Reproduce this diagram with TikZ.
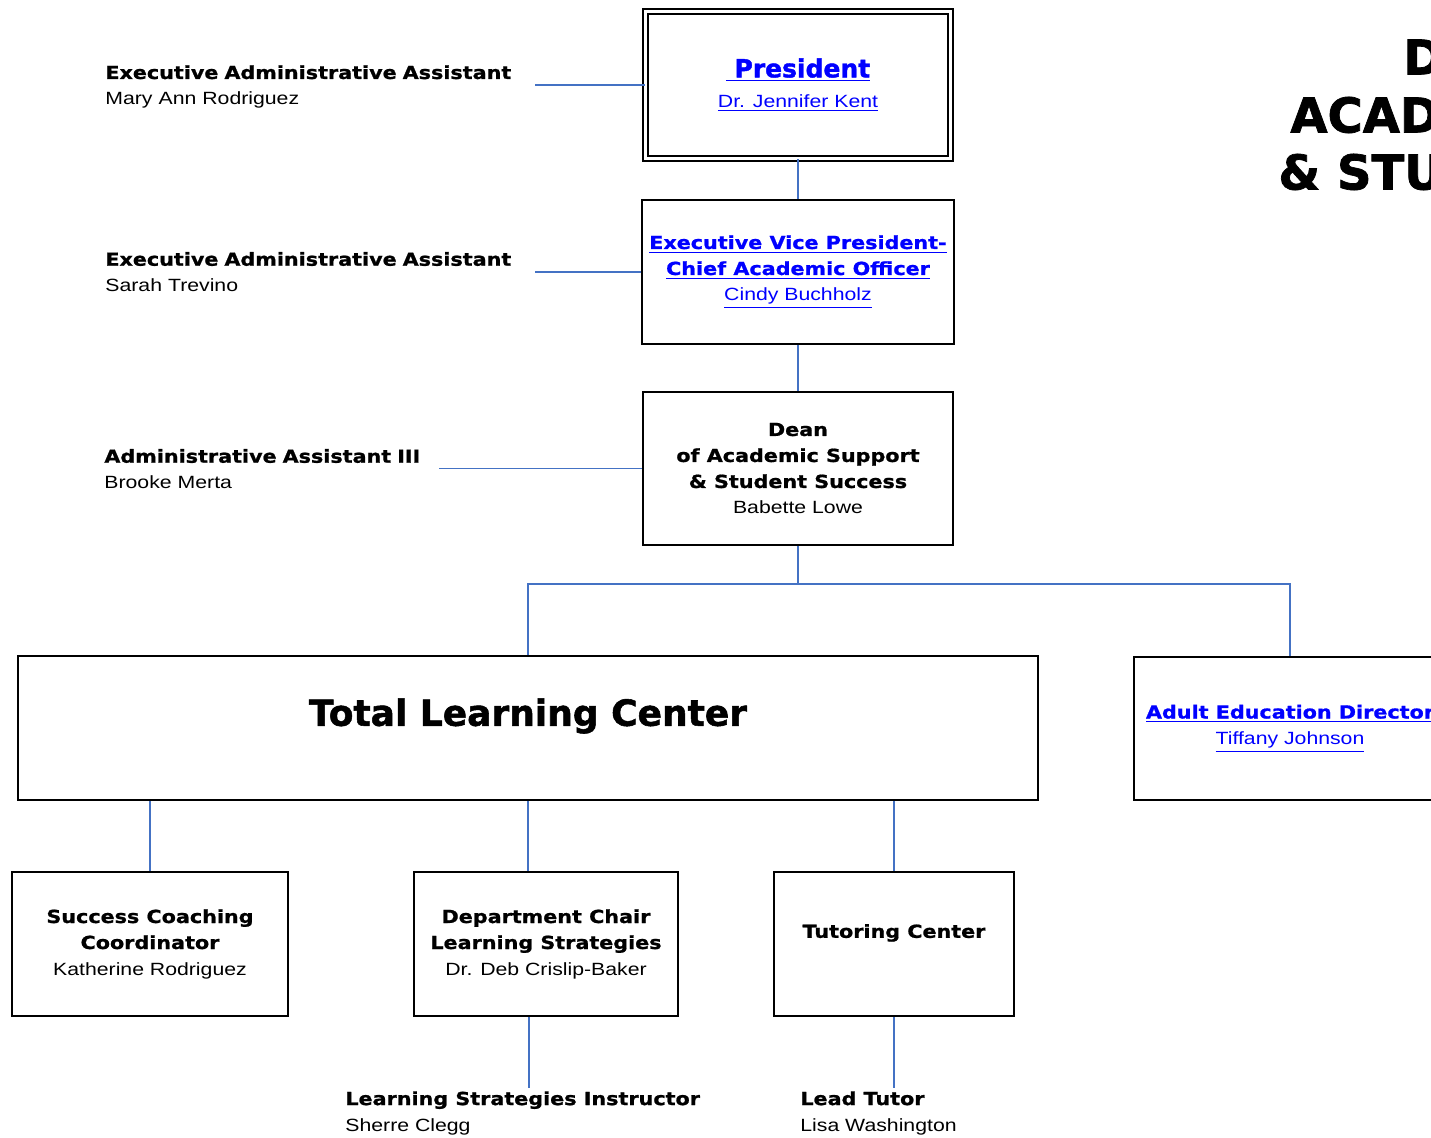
\documentclass[tikz,border=0pt]{standalone}
\usepackage{fontspec}
\setmainfont{Liberation Sans}[FakeStretch=1.2]
\newfontfamily\hdfont{DejaVu Sans}[FakeStretch=1.15,FakeBold=1]
\newfontfamily\bigfont{DejaVu Sans}[FakeBold=1.5]
\usepackage{tikz}
\usetikzlibrary{positioning}

\definecolor{orglink}{RGB}{68,114,196}
\definecolor{hyper}{RGB}{0,0,255}
\newcommand{\namefont}{\normalfont\fontsize{8.85}{13}\selectfont}
\newcommand{\headfont}{\hdfont\bfseries\fontsize{9}{13}\selectfont}

\tikzset{
  orgbox/.style={draw=black, line width=1pt, align=center, inner sep=0pt, font=\headfont},
  aide/.style={anchor=west, align=left, inner sep=0pt, font=\headfont},
  conn/.style={draw=orglink, line width=0.8pt},
}

\begin{document}
\begin{tikzpicture}[x=0.5pt,y=0.5pt,yscale=-1,xscale=1]
\useasboundingbox (0,0) rectangle (1431,1138);
\clip (0,0) rectangle (1431,1138);

% Title (runs off the page)
\node [anchor=west, inner sep=0pt, font=\bigfont\bfseries\fontsize{24}{28.5}\selectfont] (ttla) at (1403,57) {D};
\node [anchor=west, inner sep=0pt, font=\bigfont\bfseries\fontsize{24}{28.5}\selectfont] (ttlb) at (1290,115) {ACAD};
\node [anchor=west, inner sep=0pt, font=\bigfont\bfseries\fontsize{24}{28.5}\selectfont] (ttlc) at (1278,172) {\&~STU};

% Boxes
\node [orgbox, double, double distance=1.5pt, minimum width=152.5pt, minimum height=73.5pt, text=hyper] (pres) at (798,85)
  {\bigfont\bfseries\fontsize{12.5}{14}\selectfont\underline{~President}\\[2pt]{\namefont\color{hyper}\underline{Dr. Jennifer Kent}}};
\node [orgbox, minimum width=156pt, minimum height=72pt, text=hyper] (evp) at (798,272)
  {\underline{Executive Vice President-}\\\underline{Chief Academic Officer}\\{\namefont\color{hyper}\underline{Cindy Buchholz}}};
\node [orgbox, minimum width=155pt, minimum height=76.5pt] (dean) at (798,468.5)
  {Dean\\of Academic Support\\\&~Student Success\\{\namefont Babette Lowe}};
\node [orgbox, minimum width=510pt, minimum height=72pt] (tlc) at (528,728) {};
\node [inner sep=0pt, font=\bigfont\bfseries\fontsize{18}{21}\selectfont] (tlclab) at ([yshift=-6pt]tlc.center) {Total Learning Center};
\node [orgbox, minimum width=156pt, minimum height=71.5pt, text=hyper] (adult) at (1290,728.5)
  {\underline{Adult Education Director}\\{\namefont\color{hyper}\underline{Tiffany Johnson}}};
\node [orgbox, minimum width=138pt, minimum height=72pt] (scc) at (150,944)
  {Success Coaching\\Coordinator\\{\namefont Katherine Rodriguez}};
\node [orgbox, minimum width=132pt, minimum height=72pt] (dept) at (546,944)
  {Department Chair\\Learning Strategies\\{\namefont Dr. Deb Crislip-Baker}};
\node [orgbox, minimum width=120pt, minimum height=72pt] (tut) at (894,944)
  {Tutoring Center\\\mbox{}};

% Assistants
\node [aide, text width=214.5pt] (exas1) at (105,87)
  {Executive Administrative Assistant\\{\namefont Mary Ann Rodriguez}};
\node [aide, text width=214.5pt] (exas2) at (105,272)
  {Executive Administrative Assistant\\{\namefont Sarah Trevino}};
\node [aide, text width=167pt] (adas) at (104,469)
  {Administrative Assistant III\\{\namefont Brooke Merta}};
\node [aide, anchor=north west] (lsi) at (345,1091)
  {Learning Strategies Instructor\\{\namefont Sherre Clegg}};
\node [aide, anchor=north west] (lt) at (800,1091)
  {Lead Tutor\\{\namefont Lisa Washington}};

% Connectors
\coordinate (bus) at (798,584);
\coordinate (lsitop) at (529,1088);
\draw [conn] (pres.west) -- (pres.west -| exas1.east);
\draw [conn] (evp.west) -- (evp.west -| exas2.east);
\draw [conn] (dean.west) -- (dean.west -| adas.east);
\draw [conn] (pres.south) -- (evp.north);
\draw [conn] (evp.south) -- (dean.north);
\draw [conn] (dean.south) -- (bus);
\draw [conn] (tlc.north) -- (tlc.north |- bus) -- (adult.north |- bus) -- (adult.north);
\draw [conn] (scc.north) -- (scc.north |- tlc.south);
\draw [conn] (tlc.south) -- (tlc.south |- dept.north);
\draw [conn] (tut.north) -- (tut.north |- tlc.south);
\draw [conn] (dept.south -| lsitop) -- (lsitop);
\draw [conn] (tut.south) -- (tut.south |- lsitop);

\end{tikzpicture}
\end{document}
